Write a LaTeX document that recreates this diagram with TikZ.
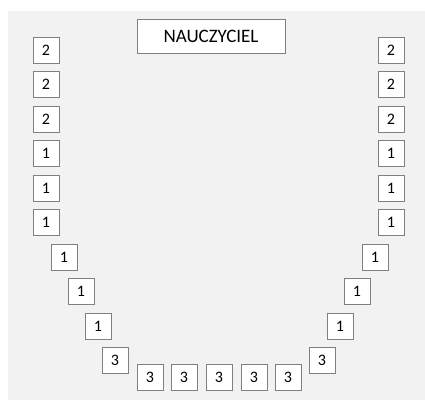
\documentclass[tikz,border=0pt]{standalone}
\usepackage{fontspec}
\setmainfont{Carlito}
\usetikzlibrary{positioning}
\definecolor{roomBg}{RGB}{242,242,242}
\definecolor{deskLine}{RGB}{128,128,128}

\begin{document}
\begin{tikzpicture}[x=1pt,y=-1pt,
  desk/.style={draw=deskLine,fill=white,minimum width=26pt,minimum height=26pt,inner sep=0pt,font=\fontsize{16}{16}\selectfont},
  teacher/.style={draw=deskLine,fill=white,minimum width=148pt,minimum height=34pt,inner sep=0pt,font=\fontsize{19}{19}\selectfont}]
\useasboundingbox (0,0) rectangle (425,401);
\fill[roomBg] (8,11) rectangle (425,400);
\node[teacher] (teacher) at (211,36) {NAUCZYCIEL};
% left side, top to bottom
\foreach \i/\x/\y/\g in {1/46/50/2,2/46/84/2,3/46/119/2,4/46/153/1,5/46/188/1,6/46/222/1,
  7/64/257/1,8/81/291/1,9/98/326/1,10/115/360/3}
  \node[desk] (l\i) at (\x,\y) {\g};
% bottom row
\foreach \i/\x in {1/150,2/184,3/219,4/254,5/288}
  \node[desk] (b\i) at (\x,377) {3};
% right side, top to bottom
\foreach \i/\x/\y/\g in {1/391/50/2,2/391/84/2,3/391/119/2,4/391/153/1,5/391/188/1,6/391/222/1,
  7/375/257/1,8/357/291/1,9/340/326/1,10/322/360/3}
  \node[desk] (r\i) at (\x,\y) {\g};
\end{tikzpicture}
\end{document}
